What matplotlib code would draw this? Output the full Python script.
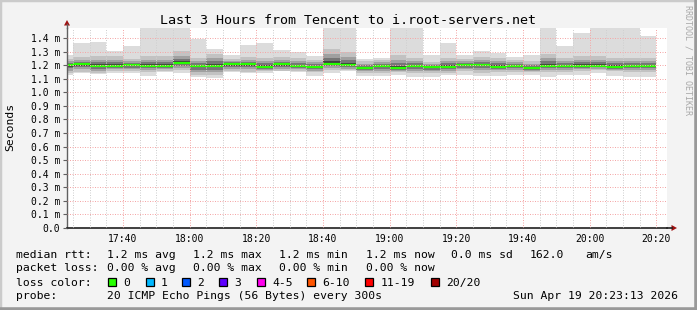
import numpy as np
import pandas as pd
import matplotlib
matplotlib.use("Agg")
import matplotlib.pyplot as plt
import matplotlib.dates as mdates
from matplotlib.lines import Line2D
from matplotlib.patches import Rectangle, Polygon

plt.rcParams["font.family"] = "DejaVu Sans Mono"

# one slot every 5 minutes (start of slot), first one is cut by the left edge
slots = pd.date_range("2026-04-19 17:20", periods=36, freq="5min")

# rtt in ms per slot
rtt_min = [1.130, 1.140, 1.135, 1.145, 1.145, 1.120, 1.150, 1.145, 1.115, 1.105,
           1.150, 1.140, 1.140, 1.155, 1.150, 1.120, 1.145, 1.155, 1.120, 1.120,
           1.130, 1.110, 1.110, 1.125, 1.130, 1.120, 1.120, 1.130, 1.130, 1.115,
           1.130, 1.130, 1.145, 1.120, 1.110, 1.110]
rtt_q1 = [1.160, 1.170, 1.160, 1.170, 1.170, 1.165, 1.170, 1.180, 1.150, 1.150,
          1.175, 1.170, 1.165, 1.175, 1.170, 1.160, 1.180, 1.175, 1.155, 1.160,
          1.160, 1.160, 1.155, 1.160, 1.170, 1.165, 1.165, 1.165, 1.160, 1.165,
          1.165, 1.170, 1.175, 1.165, 1.165, 1.165]
rtt_med = [1.200, 1.206, 1.194, 1.194, 1.199, 1.194, 1.196, 1.218, 1.194, 1.194,
           1.205, 1.205, 1.187, 1.205, 1.192, 1.187, 1.211, 1.203, 1.180, 1.195,
           1.180, 1.194, 1.183, 1.188, 1.199, 1.203, 1.190, 1.192, 1.180, 1.194,
           1.194, 1.196, 1.196, 1.188, 1.196, 1.195]
rtt_q3 = [1.230, 1.240, 1.240, 1.240, 1.230, 1.240, 1.240, 1.270, 1.230, 1.250,
          1.230, 1.240, 1.230, 1.240, 1.230, 1.220, 1.280, 1.260, 1.210, 1.220,
          1.240, 1.230, 1.210, 1.230, 1.230, 1.240, 1.230, 1.220, 1.210, 1.250,
          1.230, 1.240, 1.240, 1.230, 1.230, 1.230]
rtt_max = [1.275, 1.365, 1.372, 1.306, 1.341, 1.500, 1.500, 1.500, 1.393, 1.319,
           1.277, 1.350, 1.363, 1.312, 1.297, 1.267, 1.500, 1.500, 1.245, 1.253,
           1.500, 1.500, 1.277, 1.363, 1.277, 1.304, 1.292, 1.263, 1.277, 1.500,
           1.341, 1.437, 1.500, 1.500, 1.500, 1.415]

y_ticks = [0.0, 0.1, 0.2, 0.3, 0.4, 0.5, 0.6, 0.7, 0.8, 0.9, 1.0, 1.1, 1.2, 1.3, 1.4]
y_labels = ["0.0", "0.1 m", "0.2 m", "0.3 m", "0.4 m", "0.5 m", "0.6 m", "0.7 m",
            "0.8 m", "0.9 m", "1.0 m", "1.1 m", "1.2 m", "1.3 m", "1.4 m"]

loss_labels = ["0", "1", "2", "3", "4-5", "6-10", "11-19", "20/20"]
loss_colors = ["#26ff00", "#00b8ff", "#0059ff", "#5e00ff", "#ff00ee",
               "#ff5500", "#ff0000", "#a10000"]

W, H = 697, 310
fig = plt.figure(figsize=(W / 100, H / 100), dpi=100, facecolor="#f3f3f3")


def fx(px):
    return px / W


def fy(py):
    return 1 - py / H


ax = fig.add_axes([fx(67), fy(228), fx(667) - fx(67), fy(28) - fy(228)])
ax.set_facecolor("white")

x = mdates.date2num(slots)
w = 5 / 1440
lo = np.array(rtt_min)
q1 = np.array(rtt_q1)
med = np.array(rtt_med)
q3 = np.array(rtt_q3)
hi = np.array(rtt_max)

# smoke: light outer band, darker towards the median
ax.bar(x, hi - lo, bottom=lo, width=w, align="edge", color="#dcdcdc", lw=0)
b = np.maximum(q1 - (med - q1) * 0.5, lo)
tp = np.minimum(q3 + (q3 - med) * 0.6, hi)
ax.bar(x, tp - b, bottom=b, width=w, align="edge", color="#c2c2c2", lw=0)
for t, c in zip([0.0, 0.4, 0.75], ["#a0a0a0", "#767676", "#404040"]):
    b = q1 + (med - q1) * t
    tp = q3 - (q3 - med) * t
    ax.bar(x, tp - b, bottom=b, width=w, align="edge", color=c, lw=0)

ax.hlines(med, x, x + w, colors=loss_colors[0], lw=1.6, zorder=2.2)

t0 = pd.Timestamp("2026-04-19 17:23:13")
ax.set_xlim(mdates.date2num(t0), mdates.date2num(t0 + pd.Timedelta(hours=3)))
ax.set_ylim(0, 1.474)

ax.xaxis.set_major_locator(mdates.MinuteLocator(byminute=[0, 20, 40]))
ax.xaxis.set_minor_locator(mdates.MinuteLocator(byminute=range(0, 60, 5)))
ax.xaxis.set_major_formatter(mdates.DateFormatter("%H:%M"))
ax.set_yticks(y_ticks)
ax.set_yticklabels(y_labels)

ax.set_axisbelow(False)
ax.grid(which="major", color="#f4a8a8", lw=0.72, ls=(0, (1, 1.5)))
ax.grid(which="minor", axis="x", color="#d0d0d0", lw=0.72, ls=(0, (1, 1.5)))

for s in ["top", "right"]:
    ax.spines[s].set_visible(False)
ax.spines["left"].set_color("#606060")
ax.spines["left"].set_linewidth(1.0)
ax.spines["bottom"].set_color("#202020")
ax.spines["bottom"].set_linewidth(1.2)

ax.tick_params(axis="y", which="major", length=3, width=0.8, color="#606060",
               pad=2, labelsize=7)
ax.tick_params(axis="x", which="both", length=0, pad=4, labelsize=7)

# axis extensions with arrows
fig.add_artist(Line2D([fx(67), fx(67)], [fy(28), fy(24)], color="#606060", lw=1.0))
fig.add_artist(Polygon([[fx(67), fy(20)], [fx(64), fy(25.5)], [fx(70), fy(25.5)]],
                       closed=True, color="#a01010", lw=0))
fig.add_artist(Line2D([fx(667), fx(672)], [fy(228), fy(228)], color="#202020", lw=1.2))
fig.add_artist(Polygon([[fx(677), fy(228)], [fx(671.5), fy(225)], [fx(671.5), fy(231)]],
                       closed=True, color="#a01010", lw=0))

fig.text(fx(348), fy(24), "Last 3 Hours from Tencent to i.root-servers.net",
         ha="center", va="baseline", fontsize=9.6)
fig.text(fx(10), fy(127), "Seconds", rotation=90, ha="center", va="center",
         fontsize=8.2)
fig.text(fx(688), fy(60), "RRDTOOL / TOBI OETIKER", rotation=270, ha="center",
         va="center", fontsize=6, color="#a8a8a8")

# legend block
fs = 8.2
rows = [
    (258, [(16, "median rtt:"), (107, "1.2 ms avg"), (193, "1.2 ms max"),
           (279, "1.2 ms min"), (365.7, "1.2 ms now"), (451, "0.0 ms sd"),
           (530, "162.0"), (585.7, "am/s")]),
    (271.3, [(16, "packet loss:"), (107, "0.00 % avg"), (193, "0.00 % max"),
             (279, "0.00 % min"), (365.7, "0.00 % now")]),
    (286, [(16, "loss color:")]),
    (299.3, [(16, "probe:"), (107, "20 ICMP Echo Pings (56 Bytes) every 300s"),
             (513, "Sun Apr 19 20:23:13 2026")]),
]
for yb, items in rows:
    for xp, s in items:
        fig.text(fx(xp), fy(yb), s, ha="left", va="baseline", fontsize=fs)

box_x = [108.3, 145.7, 182.3, 219, 256.7, 307.3, 365, 430.7]
for bx, lab, col in zip(box_x, loss_labels, loss_colors):
    fig.add_artist(Rectangle((fx(bx), fy(286)), 8 / W, 8 / H, facecolor=col,
                             edgecolor="black", lw=0.9))
    fig.text(fx(bx + 15.3), fy(286), lab, ha="left", va="baseline", fontsize=fs)

# frame
fig.add_artist(Line2D([0, 0], [0, 1], color="#cbcbcb", lw=2.5))
fig.add_artist(Line2D([0, 1], [1, 1], color="#cbcbcb", lw=2.5))
fig.add_artist(Line2D([1, 1], [0, 1], color="#999999", lw=4))
fig.add_artist(Line2D([0, 1], [0, 0], color="#999999", lw=4))

fig.savefig("out.png", dpi=100, facecolor=fig.get_facecolor())
